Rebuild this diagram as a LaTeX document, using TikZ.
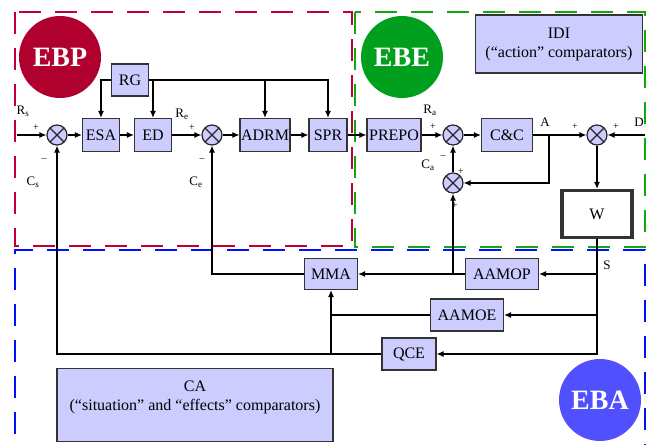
\documentclass[tikz,border=0pt]{standalone}
\usepackage{fontspec}
\setmainfont{Liberation Serif}
\usetikzlibrary{arrows.meta, calc}

\definecolor{boxfill}{HTML}{CCCCFF}
\definecolor{ebpred}{HTML}{B0002E}
\definecolor{ebegreen}{HTML}{00A01E}
\definecolor{ebablue}{HTML}{5050FF}
\definecolor{dashred}{HTML}{C00035}
\definecolor{dashgreen}{HTML}{10A810}
\definecolor{dashblue}{HTML}{0010FF}

\begin{document}
\begin{tikzpicture}[x=1pt, y=-1pt,
    box/.style={draw=black!80, line width=1.2pt, fill=boxfill, inner sep=1pt,
        minimum height=33pt, font=\fontsize{16}{19}\selectfont},
    summer/.style={circle, draw=black!85, line width=1.2pt, fill=boxfill,
        minimum size=20pt, inner sep=0pt,
        path picture={\draw[line width=1.2pt]
            (path picture bounding box.north west) -- (path picture bounding box.south east)
            (path picture bounding box.north east) -- (path picture bounding box.south west);}},
    flow/.style={line width=1.1pt, -{Latex[length=7pt,width=6pt]}},
    wire/.style={line width=1.1pt},
    lbl/.style={font=\fontsize{13}{13}\selectfont, inner sep=0pt},
    sgn/.style={font=\fontsize{10}{10}\selectfont, inner sep=0pt},
    region/.style={line width=2.9pt, dash pattern=on 22pt off 14pt},
    badge/.style={circle, minimum size=82pt, inner sep=0pt, text=white,
        font=\fontsize{28}{28}\selectfont\bfseries}]
    \useasboundingbox (0,0) rectangle (655,444);

    % Regions
    \draw[region, dashred] (15,12) rectangle (352,246);
    \draw[region, dashgreen] (355,12) rectangle (645,247);
    \draw[region, dashblue] (15,470) -- (15,250) -- (645,250) -- (645,470);

    \node[badge, fill=ebpred] (EBP) at (60,57) {EBP};
    \node[badge, fill=ebegreen] (EBE) at (402,57) {EBE};
    \node[badge, fill=ebablue] (EBA) at (600,400) {EBA};

    % Forward path
    \coordinate (inS) at (17,135);
    \node[summer] (sumS) at (57,135) {};
    \node[box, minimum width=37pt] (ESA) at (101,135) {ESA};
    \node[box, minimum width=37pt] (ED) at (153,135) {ED};
    \node[box, minimum width=37pt, minimum height=32pt] (RG) at (130,80) {RG};
    \node[summer] (sumE) at (212,135) {};
    \node[box, minimum width=48pt] (ADRM) at (265,135) {ADRM};
    \node[box, minimum width=38pt] (SPR) at (328,135) {SPR};
    \node[box, minimum width=54pt] (PREPO) at (394,135) {PREPO};
    \node[summer] (sumA) at (453,135) {};
    \node[box, minimum width=51pt] (CC) at (507,135) {C\&C};
    \node[summer] (sumCa) at (453,183) {};
    \node[summer] (sumD) at (597,135) {};
    \coordinate (inD) at (645,135);
    \coordinate (jA) at (549,135);
    \node[box, fill=white, line width=3.2pt, minimum width=70pt, minimum height=47pt] (W) at (597,214) {W};

    \node[box, minimum width=167pt, minimum height=58pt, align=center] (IDI) at (559,44)
        {IDI\\(“action” comparators)};

    % Feedback blocks
    \node[box, minimum width=53pt, minimum height=31pt] (MMA) at (331,274) {MMA};
    \node[box, minimum width=73pt, minimum height=31pt] (AAMOP) at (502,274) {AAMOP};
    \node[box, minimum width=73pt, minimum height=32pt] (AAMOE) at (467,315) {AAMOE};
    \node[box, minimum width=54pt, minimum height=32pt] (QCE) at (409,354) {QCE};
    \node[box, minimum width=276pt, minimum height=73pt, align=center] (CA) at (195,405)
        {CA\\(“situation” and “effects” comparators)\\\mbox{}};

    % Connectors
    \draw[flow] (inS) -- (sumS);
    \draw[flow] (sumS) -- (ESA);
    \draw[flow] (ESA) -- (ED);
    \draw[flow] (ED) -- (sumE);
    \draw[flow] (sumE) -- (ADRM);
    \draw[flow] (ADRM) -- (SPR);
    \draw[flow] (SPR) -- (PREPO);
    \draw[flow] (PREPO) -- (sumA);
    \draw[flow] (sumA) -- (CC);
    \draw[flow] (CC) -- (sumD);
    \draw[flow] (inD) -- (sumD);
    \draw[flow] (jA) |- (sumCa.east);
    \draw[flow] (sumCa) -- (sumA);
    \draw[flow] (sumD) -- (W);

    \draw[flow] (RG.west) -| (ESA.north);
    \draw[flow] (RG.east) -| (ED.north);
    \draw[flow] (RG.east) -| (ADRM.north);
    \draw[flow] (RG.east) -| (SPR.north);

    \draw[flow] (W.south) |- (QCE.east);
    \draw[flow] (W.south |- AAMOP.east) -- (AAMOP.east);
    \draw[flow] (W.south |- AAMOE.east) -- (AAMOE.east);
    \draw[flow] (AAMOP) -- (MMA);
    \draw[flow] (sumCa |- AAMOP.west) -- (sumCa.south);
    \draw[wire] (AAMOE.west) -- (MMA |- AAMOE.west);
    \draw[flow] (MMA |- QCE.west) -- (MMA.south);
    \draw[flow] (QCE.west) -| (sumS.south);
    \draw[flow] (MMA.west) -| (sumE.south);

    % Labels
    \node[lbl] (Rs) at (23,111) {R\textsubscript{s}};
    \node[sgn] (pS) at (36,128) {+};
    \node[sgn] (mS) at (44,160) {–};
    \node[lbl] (Cs) at (33,182) {C\textsubscript{s}};
    \node[lbl] (Re) at (182,114) {R\textsubscript{e}};
    \node[sgn] (pE) at (192,128) {+};
    \node[sgn] (mE) at (202,160) {–};
    \node[lbl] (Ce) at (196,182) {C\textsubscript{e}};
    \node[lbl] (Ra) at (430,110) {R\textsubscript{a}};
    \node[sgn] (pA) at (433,127) {+};
    \node[lbl] (Ca) at (428,165) {C\textsubscript{a}};
    \node[sgn] (mA) at (443,157) {–};
    \node[sgn] (pCa) at (461,172) {+};
    \node[sgn] (pCb) at (455,206) {+};
    \node[lbl] (lA) at (545,122) {A};
    \node[sgn] (pD1) at (575,127) {+};
    \node[sgn] (pD2) at (616,127) {+};
    \node[lbl] (lD) at (639,122) {D};
    \node[lbl] (lS) at (607,265) {S};
\end{tikzpicture}
\end{document}
